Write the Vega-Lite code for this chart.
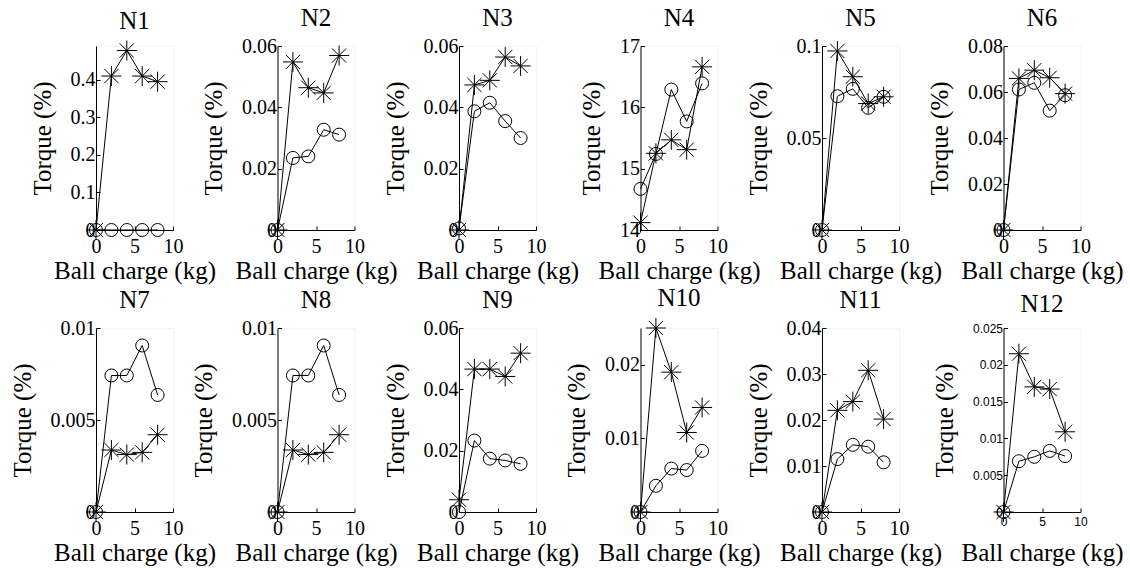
{
  "$schema": "https://vega.github.io/schema/vega-lite/v6.json",
  "padding": {"left": 9, "top": 5, "right": 5, "bottom": 5},
  "background": "white",
  "config": {
    "font": "Liberation Serif",
    "view": {"stroke": "#f3f3f3"},
    "axis": {"domainColor": "black", "tickColor": "black", "labelColor": "black", "titleColor": "black", "grid": false, "labelFont": "Liberation Serif", "labelFontSize": 20, "titleFont": "Liberation Serif", "titleFontSize": 25, "titleFontWeight": "normal", "tickSize": -4, "labelFlush": false, "labelOverlap": false, "domainWidth": 1, "tickWidth": 1, "titlePadding": 15},
    "axisX": {"titleY": 48, "titleBaseline": "alphabetic", "labelPadding": 10},
    "axisY": {"labelPadding": 5},
    "title": {"font": "Liberation Serif", "fontSize": 25, "fontWeight": "normal", "frame": "group", "offset": 5, "baseline": "alphabetic", "color": "black"},
    "line": {"color": "black", "strokeWidth": 1},
    "point": {"color": "black", "filled": false, "strokeWidth": 1, "opacity": 1}
  },
  "data": {"values": [
    {"panel": "N1", "series": "star", "charge": 0, "torque": 0},
    {"panel": "N1", "series": "star", "charge": 2, "torque": 0.41},
    {"panel": "N1", "series": "star", "charge": 4, "torque": 0.478},
    {"panel": "N1", "series": "star", "charge": 6, "torque": 0.41},
    {"panel": "N1", "series": "star", "charge": 8, "torque": 0.395},
    {"panel": "N1", "series": "circle", "charge": 0, "torque": 0},
    {"panel": "N1", "series": "circle", "charge": 2, "torque": 0},
    {"panel": "N1", "series": "circle", "charge": 4, "torque": 0},
    {"panel": "N1", "series": "circle", "charge": 6, "torque": 0},
    {"panel": "N1", "series": "circle", "charge": 8, "torque": 0},
    {"panel": "N2", "series": "star", "charge": 0, "torque": 0},
    {"panel": "N2", "series": "star", "charge": 2, "torque": 0.0548},
    {"panel": "N2", "series": "star", "charge": 4, "torque": 0.0464},
    {"panel": "N2", "series": "star", "charge": 6, "torque": 0.0447},
    {"panel": "N2", "series": "star", "charge": 8, "torque": 0.0569},
    {"panel": "N2", "series": "circle", "charge": 0, "torque": 0},
    {"panel": "N2", "series": "circle", "charge": 2, "torque": 0.0235},
    {"panel": "N2", "series": "circle", "charge": 4, "torque": 0.024},
    {"panel": "N2", "series": "circle", "charge": 6, "torque": 0.0327},
    {"panel": "N2", "series": "circle", "charge": 8, "torque": 0.0311},
    {"panel": "N3", "series": "star", "charge": 0, "torque": 0},
    {"panel": "N3", "series": "star", "charge": 2, "torque": 0.0473},
    {"panel": "N3", "series": "star", "charge": 4, "torque": 0.0488},
    {"panel": "N3", "series": "star", "charge": 6, "torque": 0.0564},
    {"panel": "N3", "series": "star", "charge": 8, "torque": 0.0535},
    {"panel": "N3", "series": "circle", "charge": 0, "torque": 0.0005},
    {"panel": "N3", "series": "circle", "charge": 2, "torque": 0.0387},
    {"panel": "N3", "series": "circle", "charge": 4, "torque": 0.0415},
    {"panel": "N3", "series": "circle", "charge": 6, "torque": 0.0355},
    {"panel": "N3", "series": "circle", "charge": 8, "torque": 0.03},
    {"panel": "N4", "series": "star", "charge": 0, "torque": 14.12},
    {"panel": "N4", "series": "star", "charge": 2, "torque": 15.25},
    {"panel": "N4", "series": "star", "charge": 4, "torque": 15.47},
    {"panel": "N4", "series": "star", "charge": 6, "torque": 15.31},
    {"panel": "N4", "series": "star", "charge": 8, "torque": 16.66},
    {"panel": "N4", "series": "circle", "charge": 0, "torque": 14.67},
    {"panel": "N4", "series": "circle", "charge": 2, "torque": 15.24},
    {"panel": "N4", "series": "circle", "charge": 4, "torque": 16.29},
    {"panel": "N4", "series": "circle", "charge": 6, "torque": 15.77},
    {"panel": "N4", "series": "circle", "charge": 8, "torque": 16.39},
    {"panel": "N5", "series": "star", "charge": 0, "torque": 0},
    {"panel": "N5", "series": "star", "charge": 2, "torque": 0.0973},
    {"panel": "N5", "series": "star", "charge": 4, "torque": 0.0833},
    {"panel": "N5", "series": "star", "charge": 6, "torque": 0.0687},
    {"panel": "N5", "series": "star", "charge": 8, "torque": 0.0724},
    {"panel": "N5", "series": "circle", "charge": 0, "torque": 0},
    {"panel": "N5", "series": "circle", "charge": 2, "torque": 0.0727},
    {"panel": "N5", "series": "circle", "charge": 4, "torque": 0.0767},
    {"panel": "N5", "series": "circle", "charge": 6, "torque": 0.0664},
    {"panel": "N5", "series": "circle", "charge": 8, "torque": 0.0724},
    {"panel": "N6", "series": "star", "charge": 0, "torque": 0},
    {"panel": "N6", "series": "star", "charge": 2, "torque": 0.0659},
    {"panel": "N6", "series": "star", "charge": 4, "torque": 0.0695},
    {"panel": "N6", "series": "star", "charge": 6, "torque": 0.0662},
    {"panel": "N6", "series": "star", "charge": 8, "torque": 0.0593},
    {"panel": "N6", "series": "circle", "charge": 0, "torque": 0},
    {"panel": "N6", "series": "circle", "charge": 2, "torque": 0.0611},
    {"panel": "N6", "series": "circle", "charge": 4, "torque": 0.064},
    {"panel": "N6", "series": "circle", "charge": 6, "torque": 0.0519},
    {"panel": "N6", "series": "circle", "charge": 8, "torque": 0.0586},
    {"panel": "N7", "series": "star", "charge": 0, "torque": 0},
    {"panel": "N7", "series": "star", "charge": 2, "torque": 0.00337},
    {"panel": "N7", "series": "star", "charge": 4, "torque": 0.00312},
    {"panel": "N7", "series": "star", "charge": 6, "torque": 0.00324},
    {"panel": "N7", "series": "star", "charge": 8, "torque": 0.0042},
    {"panel": "N7", "series": "circle", "charge": 0, "torque": 0},
    {"panel": "N7", "series": "circle", "charge": 2, "torque": 0.00742},
    {"panel": "N7", "series": "circle", "charge": 4, "torque": 0.00742},
    {"panel": "N7", "series": "circle", "charge": 6, "torque": 0.00905},
    {"panel": "N7", "series": "circle", "charge": 8, "torque": 0.00636},
    {"panel": "N8", "series": "star", "charge": 0, "torque": 0},
    {"panel": "N8", "series": "star", "charge": 2, "torque": 0.00337},
    {"panel": "N8", "series": "star", "charge": 4, "torque": 0.00312},
    {"panel": "N8", "series": "star", "charge": 6, "torque": 0.00324},
    {"panel": "N8", "series": "star", "charge": 8, "torque": 0.0042},
    {"panel": "N8", "series": "circle", "charge": 0, "torque": 0},
    {"panel": "N8", "series": "circle", "charge": 2, "torque": 0.00742},
    {"panel": "N8", "series": "circle", "charge": 4, "torque": 0.00742},
    {"panel": "N8", "series": "circle", "charge": 6, "torque": 0.00905},
    {"panel": "N8", "series": "circle", "charge": 8, "torque": 0.00636},
    {"panel": "N9", "series": "star", "charge": 0, "torque": 0.004},
    {"panel": "N9", "series": "star", "charge": 2, "torque": 0.0466},
    {"panel": "N9", "series": "star", "charge": 4, "torque": 0.0466},
    {"panel": "N9", "series": "star", "charge": 6, "torque": 0.0442},
    {"panel": "N9", "series": "star", "charge": 8, "torque": 0.0518},
    {"panel": "N9", "series": "circle", "charge": 0, "torque": 0},
    {"panel": "N9", "series": "circle", "charge": 2, "torque": 0.0233},
    {"panel": "N9", "series": "circle", "charge": 4, "torque": 0.0174},
    {"panel": "N9", "series": "circle", "charge": 6, "torque": 0.0168},
    {"panel": "N9", "series": "circle", "charge": 8, "torque": 0.0157},
    {"panel": "N10", "series": "star", "charge": 0, "torque": 0},
    {"panel": "N10", "series": "star", "charge": 2, "torque": 0.025},
    {"panel": "N10", "series": "star", "charge": 4, "torque": 0.019},
    {"panel": "N10", "series": "star", "charge": 6, "torque": 0.0108},
    {"panel": "N10", "series": "star", "charge": 8, "torque": 0.0142},
    {"panel": "N10", "series": "circle", "charge": 0, "torque": 0},
    {"panel": "N10", "series": "circle", "charge": 2, "torque": 0.00356},
    {"panel": "N10", "series": "circle", "charge": 4, "torque": 0.0059},
    {"panel": "N10", "series": "circle", "charge": 6, "torque": 0.0057},
    {"panel": "N10", "series": "circle", "charge": 8, "torque": 0.0083},
    {"panel": "N11", "series": "star", "charge": 0, "torque": 0},
    {"panel": "N11", "series": "star", "charge": 2, "torque": 0.0221},
    {"panel": "N11", "series": "star", "charge": 4, "torque": 0.024},
    {"panel": "N11", "series": "star", "charge": 6, "torque": 0.0308},
    {"panel": "N11", "series": "star", "charge": 8, "torque": 0.0202},
    {"panel": "N11", "series": "circle", "charge": 0, "torque": 0},
    {"panel": "N11", "series": "circle", "charge": 2, "torque": 0.0115},
    {"panel": "N11", "series": "circle", "charge": 4, "torque": 0.0146},
    {"panel": "N11", "series": "circle", "charge": 6, "torque": 0.0142},
    {"panel": "N11", "series": "circle", "charge": 8, "torque": 0.0108},
    {"panel": "N12", "series": "star", "charge": 0, "torque": 0},
    {"panel": "N12", "series": "star", "charge": 2, "torque": 0.0215},
    {"panel": "N12", "series": "star", "charge": 4, "torque": 0.017},
    {"panel": "N12", "series": "star", "charge": 6, "torque": 0.0167},
    {"panel": "N12", "series": "star", "charge": 8, "torque": 0.0109},
    {"panel": "N12", "series": "circle", "charge": 0, "torque": 0},
    {"panel": "N12", "series": "circle", "charge": 2, "torque": 0.0069},
    {"panel": "N12", "series": "circle", "charge": 4, "torque": 0.0075},
    {"panel": "N12", "series": "circle", "charge": 6, "torque": 0.0083},
    {"panel": "N12", "series": "circle", "charge": 8, "torque": 0.0076}
  ]},
  "bounds": "flush",
  "columns": 6,
  "spacing": {"row": 98, "column": 104.5},
  "concat": [
      {"title": "N1", "width": 77, "height": 184, "transform": [{"filter": "datum.panel === 'N1'"}],
       "encoding": {"x": {"field": "charge", "type": "quantitative", "scale": {"domain": [0, 10]}, "axis": {"values": [0, 5, 10], "format": "~r"}, "title": "Ball charge (kg)"},
                    "y": {"field": "torque", "type": "quantitative", "scale": {"domain": [0, 0.49]}, "axis": {"values": [0, 0.1, 0.2, 0.3, 0.4], "format": "~r"}, "title": "Torque (%)"}},
       "layer": [
         {"mark": "line", "encoding": {"detail": {"field": "series"}}},
         {"mark": "point", "encoding": {"shape": {"field": "series", "type": "nominal", "scale": {"domain": ["circle", "star"], "range": ["circle", "M-1,0L1,0M0,-1L0,1M-0.71,-0.71L0.71,0.71M-0.71,0.71L0.71,-0.71"]}, "legend": null}, "size": {"field": "series", "type": "ordinal", "scale": {"domain": ["circle", "star"], "range": [169, 400]}, "legend": null}}}
       ]},
      {"title": "N2", "width": 77, "height": 184, "transform": [{"filter": "datum.panel === 'N2'"}],
       "encoding": {"x": {"field": "charge", "type": "quantitative", "scale": {"domain": [0, 10]}, "axis": {"values": [0, 5, 10], "format": "~r"}, "title": "Ball charge (kg)"},
                    "y": {"field": "torque", "type": "quantitative", "scale": {"domain": [0, 0.06]}, "axis": {"values": [0, 0.02, 0.04, 0.06], "format": "~r"}, "title": "Torque (%)"}},
       "layer": [
         {"mark": "line", "encoding": {"detail": {"field": "series"}}},
         {"mark": "point", "encoding": {"shape": {"field": "series", "type": "nominal", "scale": {"domain": ["circle", "star"], "range": ["circle", "M-1,0L1,0M0,-1L0,1M-0.71,-0.71L0.71,0.71M-0.71,0.71L0.71,-0.71"]}, "legend": null}, "size": {"field": "series", "type": "ordinal", "scale": {"domain": ["circle", "star"], "range": [169, 400]}, "legend": null}}}
       ]},
      {"title": "N3", "width": 77, "height": 184, "transform": [{"filter": "datum.panel === 'N3'"}],
       "encoding": {"x": {"field": "charge", "type": "quantitative", "scale": {"domain": [0, 10]}, "axis": {"values": [0, 5, 10], "format": "~r"}, "title": "Ball charge (kg)"},
                    "y": {"field": "torque", "type": "quantitative", "scale": {"domain": [0, 0.06]}, "axis": {"values": [0, 0.02, 0.04, 0.06], "format": "~r"}, "title": "Torque (%)"}},
       "layer": [
         {"mark": "line", "encoding": {"detail": {"field": "series"}}},
         {"mark": "point", "encoding": {"shape": {"field": "series", "type": "nominal", "scale": {"domain": ["circle", "star"], "range": ["circle", "M-1,0L1,0M0,-1L0,1M-0.71,-0.71L0.71,0.71M-0.71,0.71L0.71,-0.71"]}, "legend": null}, "size": {"field": "series", "type": "ordinal", "scale": {"domain": ["circle", "star"], "range": [169, 400]}, "legend": null}}}
       ]},
      {"title": "N4", "width": 77, "height": 184, "transform": [{"filter": "datum.panel === 'N4'"}],
       "encoding": {"x": {"field": "charge", "type": "quantitative", "scale": {"domain": [0, 10]}, "axis": {"values": [0, 5, 10], "format": "~r"}, "title": "Ball charge (kg)"},
                    "y": {"field": "torque", "type": "quantitative", "scale": {"domain": [14, 17], "zero": false}, "axis": {"values": [14, 15, 16, 17], "format": "~r"}, "title": "Torque (%)"}},
       "layer": [
         {"mark": "line", "encoding": {"detail": {"field": "series"}}},
         {"mark": "point", "encoding": {"shape": {"field": "series", "type": "nominal", "scale": {"domain": ["circle", "star"], "range": ["circle", "M-1,0L1,0M0,-1L0,1M-0.71,-0.71L0.71,0.71M-0.71,0.71L0.71,-0.71"]}, "legend": null}, "size": {"field": "series", "type": "ordinal", "scale": {"domain": ["circle", "star"], "range": [169, 400]}, "legend": null}}}
       ]},
      {"title": "N5", "width": 77, "height": 184, "transform": [{"filter": "datum.panel === 'N5'"}],
       "encoding": {"x": {"field": "charge", "type": "quantitative", "scale": {"domain": [0, 10]}, "axis": {"values": [0, 5, 10], "format": "~r"}, "title": "Ball charge (kg)"},
                    "y": {"field": "torque", "type": "quantitative", "scale": {"domain": [0, 0.1]}, "axis": {"values": [0, 0.05, 0.1], "format": "~r"}, "title": "Torque (%)"}},
       "layer": [
         {"mark": "line", "encoding": {"detail": {"field": "series"}}},
         {"mark": "point", "encoding": {"shape": {"field": "series", "type": "nominal", "scale": {"domain": ["circle", "star"], "range": ["circle", "M-1,0L1,0M0,-1L0,1M-0.71,-0.71L0.71,0.71M-0.71,0.71L0.71,-0.71"]}, "legend": null}, "size": {"field": "series", "type": "ordinal", "scale": {"domain": ["circle", "star"], "range": [169, 400]}, "legend": null}}}
       ]},
      {"title": "N6", "width": 77, "height": 184, "transform": [{"filter": "datum.panel === 'N6'"}],
       "encoding": {"x": {"field": "charge", "type": "quantitative", "scale": {"domain": [0, 10]}, "axis": {"values": [0, 5, 10], "format": "~r"}, "title": "Ball charge (kg)"},
                    "y": {"field": "torque", "type": "quantitative", "scale": {"domain": [0, 0.08]}, "axis": {"values": [0, 0.02, 0.04, 0.06, 0.08], "format": "~r"}, "title": "Torque (%)"}},
       "layer": [
         {"mark": "line", "encoding": {"detail": {"field": "series"}}},
         {"mark": "point", "encoding": {"shape": {"field": "series", "type": "nominal", "scale": {"domain": ["circle", "star"], "range": ["circle", "M-1,0L1,0M0,-1L0,1M-0.71,-0.71L0.71,0.71M-0.71,0.71L0.71,-0.71"]}, "legend": null}, "size": {"field": "series", "type": "ordinal", "scale": {"domain": ["circle", "star"], "range": [169, 400]}, "legend": null}}}
       ]},
      {"title": "N7", "width": 77, "height": 184, "transform": [{"filter": "datum.panel === 'N7'"}],
       "encoding": {"x": {"field": "charge", "type": "quantitative", "scale": {"domain": [0, 10]}, "axis": {"values": [0, 5, 10], "format": "~r"}, "title": "Ball charge (kg)"},
                    "y": {"field": "torque", "type": "quantitative", "scale": {"domain": [0, 0.01]}, "axis": {"values": [0, 0.005, 0.01], "format": "~r"}, "title": "Torque (%)"}},
       "layer": [
         {"mark": "line", "encoding": {"detail": {"field": "series"}}},
         {"mark": "point", "encoding": {"shape": {"field": "series", "type": "nominal", "scale": {"domain": ["circle", "star"], "range": ["circle", "M-1,0L1,0M0,-1L0,1M-0.71,-0.71L0.71,0.71M-0.71,0.71L0.71,-0.71"]}, "legend": null}, "size": {"field": "series", "type": "ordinal", "scale": {"domain": ["circle", "star"], "range": [169, 400]}, "legend": null}}}
       ]},
      {"title": "N8", "width": 77, "height": 184, "transform": [{"filter": "datum.panel === 'N8'"}],
       "encoding": {"x": {"field": "charge", "type": "quantitative", "scale": {"domain": [0, 10]}, "axis": {"values": [0, 5, 10], "format": "~r"}, "title": "Ball charge (kg)"},
                    "y": {"field": "torque", "type": "quantitative", "scale": {"domain": [0, 0.01]}, "axis": {"values": [0, 0.005, 0.01], "format": "~r"}, "title": "Torque (%)"}},
       "layer": [
         {"mark": "line", "encoding": {"detail": {"field": "series"}}},
         {"mark": "point", "encoding": {"shape": {"field": "series", "type": "nominal", "scale": {"domain": ["circle", "star"], "range": ["circle", "M-1,0L1,0M0,-1L0,1M-0.71,-0.71L0.71,0.71M-0.71,0.71L0.71,-0.71"]}, "legend": null}, "size": {"field": "series", "type": "ordinal", "scale": {"domain": ["circle", "star"], "range": [169, 400]}, "legend": null}}}
       ]},
      {"title": "N9", "width": 77, "height": 184, "transform": [{"filter": "datum.panel === 'N9'"}],
       "encoding": {"x": {"field": "charge", "type": "quantitative", "scale": {"domain": [0, 10]}, "axis": {"values": [0, 5, 10], "format": "~r"}, "title": "Ball charge (kg)"},
                    "y": {"field": "torque", "type": "quantitative", "scale": {"domain": [0, 0.06]}, "axis": {"values": [0, 0.02, 0.04, 0.06], "format": "~r"}, "title": "Torque (%)"}},
       "layer": [
         {"mark": "line", "encoding": {"detail": {"field": "series"}}},
         {"mark": "point", "encoding": {"shape": {"field": "series", "type": "nominal", "scale": {"domain": ["circle", "star"], "range": ["circle", "M-1,0L1,0M0,-1L0,1M-0.71,-0.71L0.71,0.71M-0.71,0.71L0.71,-0.71"]}, "legend": null}, "size": {"field": "series", "type": "ordinal", "scale": {"domain": ["circle", "star"], "range": [169, 400]}, "legend": null}}}
       ]},
      {"title": "N10", "width": 77, "height": 184, "transform": [{"filter": "datum.panel === 'N10'"}],
       "encoding": {"x": {"field": "charge", "type": "quantitative", "scale": {"domain": [0, 10]}, "axis": {"values": [0, 5, 10], "format": "~r"}, "title": "Ball charge (kg)"},
                    "y": {"field": "torque", "type": "quantitative", "scale": {"domain": [0, 0.025]}, "axis": {"values": [0, 0.01, 0.02], "format": "~r"}, "title": "Torque (%)"}},
       "layer": [
         {"mark": "line", "encoding": {"detail": {"field": "series"}}},
         {"mark": "point", "encoding": {"shape": {"field": "series", "type": "nominal", "scale": {"domain": ["circle", "star"], "range": ["circle", "M-1,0L1,0M0,-1L0,1M-0.71,-0.71L0.71,0.71M-0.71,0.71L0.71,-0.71"]}, "legend": null}, "size": {"field": "series", "type": "ordinal", "scale": {"domain": ["circle", "star"], "range": [169, 400]}, "legend": null}}}
       ]},
      {"title": "N11", "width": 77, "height": 184, "transform": [{"filter": "datum.panel === 'N11'"}],
       "encoding": {"x": {"field": "charge", "type": "quantitative", "scale": {"domain": [0, 10]}, "axis": {"values": [0, 5, 10], "format": "~r"}, "title": "Ball charge (kg)"},
                    "y": {"field": "torque", "type": "quantitative", "scale": {"domain": [0, 0.04]}, "axis": {"values": [0, 0.01, 0.02, 0.03, 0.04], "format": "~r"}, "title": "Torque (%)"}},
       "layer": [
         {"mark": "line", "encoding": {"detail": {"field": "series"}}},
         {"mark": "point", "encoding": {"shape": {"field": "series", "type": "nominal", "scale": {"domain": ["circle", "star"], "range": ["circle", "M-1,0L1,0M0,-1L0,1M-0.71,-0.71L0.71,0.71M-0.71,0.71L0.71,-0.71"]}, "legend": null}, "size": {"field": "series", "type": "ordinal", "scale": {"domain": ["circle", "star"], "range": [169, 400]}, "legend": null}}}
       ]},
      {"title": "N12", "width": 77, "height": 184, "transform": [{"filter": "datum.panel === 'N12'"}],
       "encoding": {"x": {"field": "charge", "type": "quantitative", "scale": {"domain": [0, 10]}, "axis": {"values": [0, 5, 10], "format": "~r", "labelFont": "Liberation Sans", "labelFontSize": 12, "labelPadding": 8}, "title": "Ball charge (kg)"},
                    "y": {"field": "torque", "type": "quantitative", "scale": {"domain": [0, 0.025]}, "axis": {"values": [0, 0.005, 0.01, 0.015, 0.02, 0.025], "format": "~r", "labelFont": "Liberation Sans", "labelFontSize": 12, "labelPadding": 5}, "title": "Torque (%)"}},
       "layer": [
         {"mark": "line", "encoding": {"detail": {"field": "series"}}},
         {"mark": "point", "encoding": {"shape": {"field": "series", "type": "nominal", "scale": {"domain": ["circle", "star"], "range": ["circle", "M-1,0L1,0M0,-1L0,1M-0.71,-0.71L0.71,0.71M-0.71,0.71L0.71,-0.71"]}, "legend": null}, "size": {"field": "series", "type": "ordinal", "scale": {"domain": ["circle", "star"], "range": [169, 400]}, "legend": null}}}
       ]}
  ]
}
